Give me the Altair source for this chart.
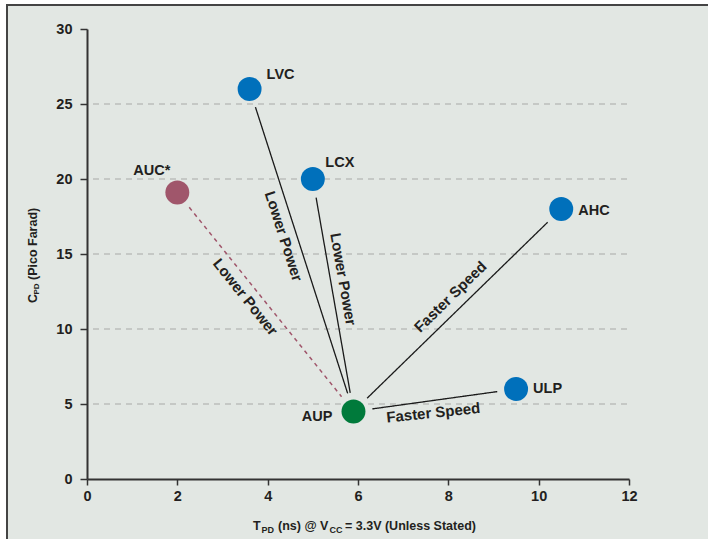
import altair as alt
import pandas as pd
import numpy as np

# ---------------- data ----------------
names = ["LVC", "LCX", "AUC*", "AHC", "ULP", "AUP"]
tpd = [3.6, 5.0, 2.0, 10.5, 9.5, 5.9]          # T_PD (ns)
cpd = [26.0, 20.0, 19.1, 18.0, 6.0, 4.5]       # C_PD (pF)
family = ["std", "std", "auc", "std", "std", "aup"]

hub = "AUP"
link_from = ["AUC*", "LVC", "LCX", "AHC", "ULP"]
link_text = ["Lower Power", "Lower Power", "Lower Power", "Faster Speed", "Faster Speed"]
link_dashed = [True, False, False, False, False]

x_ticks = [0, 2, 4, 6, 8, 10, 12]
y_ticks = [0, 5, 10, 15, 20, 25, 30]
grid_vals = [5, 10, 15, 20, 25]

# ---------------- styles ----------------
FONT = "Liberation Sans"
TXT = "#231F20"
BG = "#E2E7E3"
W, H = 542, 450
XMAX, YMAX = 12, 30
PX, PY = W / XMAX, H / YMAX
GAP = 19  # px gap between line ends and circle centres

fam_dom = ["std", "aup", "auc"]
fam_rng = ["#0070BB", "#007A3B", "#A0566B"]

point_label_style = {
    "LVC": dict(align="left", dx=17, dy=-14),
    "LCX": dict(align="left", dx=12.5, dy=-16),
    "AUC*": dict(align="right", dx=-7, dy=-22),
    "AHC": dict(align="left", dx=17, dy=2),
    "ULP": dict(align="left", dx=17, dy=0),
    "AUP": dict(align="right", dx=-21, dy=5),
}
line_label_style = {
    "AUC*": dict(angle=51.2, dx=-16.4, dy=12.5),
    "LVC": dict(angle=72.2, dx=-18.8, dy=12.8),
    "LCX": dict(angle=80.1, dx=-14.1, dy=-12.6),
    "AHC": dict(angle=315.7, dx=4.4, dy=-14.5),
    "ULP": dict(angle=354.1, dx=-2.8, dy=12.3),
}

# ---------------- derived tables ----------------
pts = pd.DataFrame({"name": names, "tpd": tpd, "cpd": cpd, "family": family})
hx = pts.loc[pts.name == hub, "tpd"].iloc[0]
hy = pts.loc[pts.name == hub, "cpd"].iloc[0]

rows = []
for nm, txt, dsh in zip(link_from, link_text, link_dashed):
    px_ = pts.loc[pts.name == nm, "tpd"].iloc[0]
    py_ = pts.loc[pts.name == nm, "cpd"].iloc[0]
    L = np.hypot((hx - px_) * PX, (hy - py_) * PY)
    t = GAP / L
    rows.append(dict(
        name=nm, text=txt, dashed=dsh,
        x1=px_ + (hx - px_) * t, y1=py_ + (hy - py_) * t,
        x2=hx - (hx - px_) * t, y2=hy - (hy - py_) * t,
        mx=(px_ + hx) / 2, my=(py_ + hy) / 2,
    ))
seg = pd.DataFrame(rows)

xscale = alt.Scale(domain=[0, XMAX], nice=False, zero=False)
yscale = alt.Scale(domain=[0, YMAX], nice=False, zero=False)
XAX = alt.Axis(values=x_ticks, title=None, grid=False, domainColor="#333333", domainWidth=2,
               tickColor="#333333", tickWidth=1.5, tickSize=6, labelFont=FONT,
               labelFontSize=14.5, labelFontWeight="bold", labelColor=TXT,
               labelPadding=4, labelFlush=False, labelOverlap=False, zindex=1)
YAX = alt.Axis(values=y_ticks, title=None, grid=False, domainColor="#333333", domainWidth=2,
               tickColor="#333333", tickWidth=1.5, tickSize=7, labelFont=FONT,
               labelFontSize=14.5, labelFontWeight="bold", labelColor=TXT,
               labelPadding=8, labelFlush=False, labelOverlap=False, zindex=1)
dummy = pd.DataFrame({"a": [0]})

layers = []

# frame / background
layers.append(
    alt.Chart(dummy).mark_rect(fill=BG, stroke="#444444", strokeWidth=2).encode(
        x=alt.value(-80), x2=alt.value(640), y=alt.value(-24), y2=alt.value(530)
    )
)

# dashed gridlines
layers.append(
    alt.Chart(pd.DataFrame({"g": grid_vals})).mark_rule(
        color="#A7AAA8", strokeDash=[6, 5], strokeWidth=1.2
    ).encode(
        y=alt.Y("g:Q", scale=yscale, axis=YAX), x=alt.value(6), x2=alt.value(W)
    )
)

# connecting lines
for dsh, col, dash, sw in [(False, "#1A1A1A", [1, 0], 1.3), (True, "#A0566B", [4, 4], 1.5)]:
    sub = seg[seg.dashed == dsh]
    layers.append(
        alt.Chart(sub).mark_rule(color=col, strokeDash=dash, strokeWidth=sw).encode(
            x=alt.X("x1:Q", scale=xscale, axis=XAX),
            y=alt.Y("y1:Q", scale=yscale, axis=YAX),
            x2="x2:Q", y2="y2:Q",
        )
    )

# line labels
for _, r in seg.iterrows():
    st = line_label_style[r["name"]]
    layers.append(
        alt.Chart(pd.DataFrame([r[["mx", "my", "text"]].to_dict()])).mark_text(
            font=FONT, fontSize=15, fontWeight="bold", color=TXT,
            align="center", baseline="middle", **st
        ).encode(
            x=alt.X("mx:Q", scale=xscale, axis=XAX),
            y=alt.Y("my:Q", scale=yscale, axis=YAX),
            text="text:N",
        )
    )

# points
layers.append(
    alt.Chart(pts).mark_circle(size=573, opacity=1).encode(
        x=alt.X("tpd:Q", scale=xscale, axis=XAX),
        y=alt.Y("cpd:Q", scale=yscale, axis=YAX),
        color=alt.Color("family:N", scale=alt.Scale(domain=fam_dom, range=fam_rng), legend=None),
    )
)

# point labels
for nm in names:
    st = point_label_style[nm]
    layers.append(
        alt.Chart(pts[pts.name == nm]).mark_text(
            font=FONT, fontSize=14.5, fontWeight="bold", color=TXT, baseline="middle", **st
        ).encode(
            x=alt.X("tpd:Q", scale=xscale, axis=XAX),
            y=alt.Y("cpd:Q", scale=yscale, axis=YAX),
            text="name:N",
        )
    )

# axis titles with subscripts
x_title = [("T", 12.5, 166, 501), ("PD", 9, 174.5, 504), ("(ns) @ V", 12.5, 191, 501),
           ("CC", 9, 242.5, 504), ("= 3.3V (Unless Stated)", 12.5, 258, 501)]
for txt, fs, xx, yy in x_title:
    layers.append(
        alt.Chart(dummy).mark_text(font=FONT, fontSize=fs, fontWeight="bold", color=TXT,
                                   align="left", baseline="alphabetic").encode(
            x=alt.value(xx), y=alt.value(yy), text=alt.value(txt))
    )
y_title = [("C", 12.5, -50, 274), ("PD", 8, -48, 265.5), ("(Pico Farad)", 12.5, -50, 251)]
for txt, fs, xx, yy in y_title:
    layers.append(
        alt.Chart(dummy).mark_text(font=FONT, fontSize=fs, fontWeight="bold", color=TXT,
                                   align="left", baseline="alphabetic", angle=270).encode(
            x=alt.value(xx), y=alt.value(yy), text=alt.value(txt))
    )

chart = alt.layer(*layers).properties(
    width=W, height=H,
    autosize=alt.AutoSizeParams(type="none"),
    padding={"left": 87, "top": 29, "right": 79, "bottom": 60},
    background="white",
).configure_view(strokeWidth=0)

chart.save("out.html", embed_options={"renderer": "svg", "actions": False})
